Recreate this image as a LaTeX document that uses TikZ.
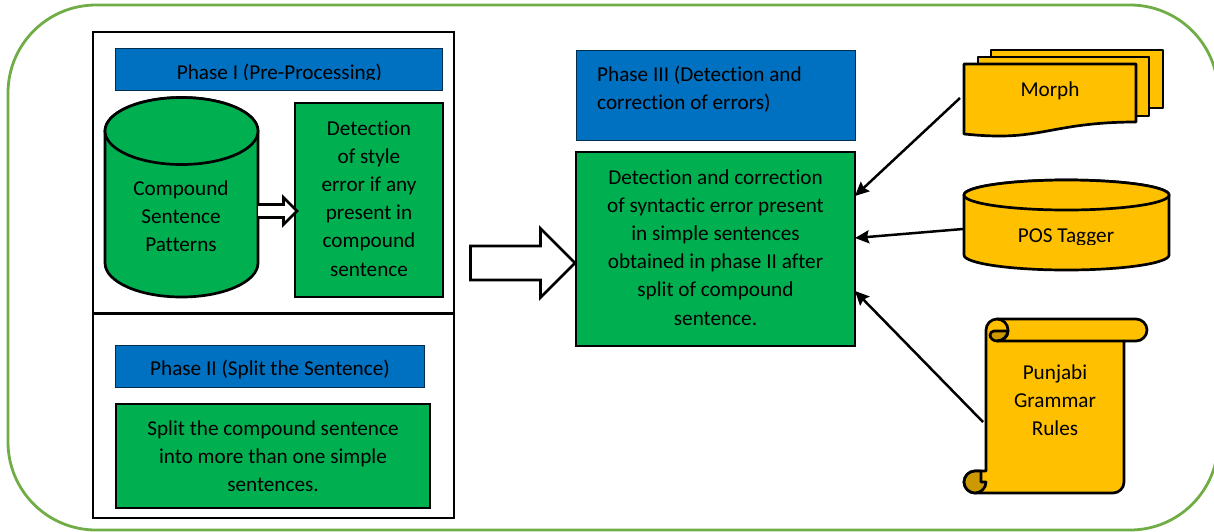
\documentclass[tikz,border=0pt]{standalone}
\usepackage{fontspec}
\setmainfont[Ligatures=NoCommon]{Carlito}
\usetikzlibrary{arrows.meta}
\definecolor{gr}{HTML}{00B050}
\definecolor{bl}{HTML}{0070C0}
\definecolor{yl}{HTML}{FFC000}
\definecolor{dk}{HTML}{CC9A00}
\definecolor{lf}{HTML}{70AD47}
\tikzset{
  x=1pt,y=-1pt,
  ln/.style={draw=black,line width=2.7pt,line join=miter},
  frame/.style={ln,fill=white,minimum width=361pt,inner sep=0pt},
  gbox/.style={ln,fill=gr,inner sep=0pt,align=center,font=\fontsize{21.2}{28.2}\selectfont},
  bbox/.style={draw=black!60!bl,line width=0.8pt,fill=bl,inner sep=0pt},
  lbl/.style={inner sep=0pt,align=center,font=\fontsize{21.2}{28.2}\selectfont,text=black},
  conn/.style={draw=black,line width=2.5pt,-{Stealth[length=14pt,width=13pt,inset=2pt]}},
  hollow/.style={ln,fill=white},
  ylw/.style={ln,fill=yl,line join=round},
}
\begin{document}
\begin{tikzpicture}
\useasboundingbox (0,0) rectangle (1214,531);
\begin{scope}
\clip (0,0) rectangle (1214,531);
\draw[lf,line width=2.8pt,rounded corners=88pt] (8,5) rectangle (1218,530);
\end{scope}
% phase frames
\node[frame,minimum height=281pt] (frameA) at (273.5,172.5) {};
\node[frame,minimum height=204pt] (frameB) at (273.5,416) {};
% phase I
\node[bbox,minimum width=327pt,minimum height=42pt] (ph1) at (279,69) {};
\begin{scope}
\clip (116,48) rectangle (443,79);
\node[lbl] (ph1t) at (279.5,73.5) {Phase I (Pre-Processing)};
\end{scope}
% cylinder
\path[ln,fill=gr] (105,131) arc[start angle=180,end angle=360,x radius=76.5pt,y radius=-33.5pt]
   -- (258,263) arc[start angle=0,end angle=180,x radius=76.5pt,y radius=-34pt] -- cycle;
\path[ln,fill=gr] (181.5,131) ellipse[x radius=76.5pt,y radius=33.5pt];
\node[lbl] (cyl) at (181,216.5) {Compound\\Sentence\\Patterns};
\node[gbox,minimum width=148pt,minimum height=194pt] (det) at (369,200) {\raisebox{1.5pt}{\begin{tabular}{@{}c@{}}Detection\\[0pt]of style\\error if any\\present in\\compound\\sentence\end{tabular}}};
% small block arrow
\path[hollow] (258,204.5) -- (283.5,204.5) -- (283.5,197.5) -- (297,211) -- (283.5,224.5) -- (283.5,217.5) -- (258,217.5);
% phase II
\node[bbox,minimum width=309pt,minimum height=42pt] (ph2) at (270,366) {};
\node[lbl] (ph2t) at (270,369.5) {Phase II (Split the Sentence)};
\node[gbox,minimum width=314pt,minimum height=104pt] (split) at (273,456) {Split the compound sentence\\into more than one simple\\sentences.};
% big arrow
\path[hollow] (470.5,246) -- (540.5,246) -- (540.5,228.5) -- (575,263) -- (540.5,297.5) -- (540.5,280) -- (470.5,280) -- cycle;
% phase III
\node[bbox,minimum width=279pt,minimum height=90pt] (ph3) at (715.5,95) {};
\node[lbl,align=left,anchor=north west] (ph3t) at (597,66) {Phase III (Detection and\\correction of errors)};
\node[gbox,minimum width=279pt,minimum height=194pt] (main) at (715.5,249) {\raisebox{2pt}{\begin{tabular}{@{}c@{}}Detection and correction\\of syntactic error present\\in simple sentences\\obtained in phase II after\\split of compound\\sentence.\end{tabular}}};
% morph
\path[ylw] (991,50) -- (1163,50) -- (1163,108) -- (1149,108) -- (1149,57) -- (991,57) -- cycle;
\path[ylw] (978,57) -- (1149,57) -- (1149,116) -- (1136,116) -- (1136,64) -- (978,64) -- cycle;
\path[ylw] (964,64) -- (1136,64) -- (1136,122) .. controls (1065,122) and (1045,136) .. (1000,136) .. controls (985,136) and (975,135) .. (964,134) -- cycle;
\node[lbl] (morph) at (1050,91) {Morph};
% POS
\path[ylw] (964,195) arc[start angle=180,end angle=360,x radius=102.5pt,y radius=-15pt]
   -- (1169,255) arc[start angle=0,end angle=180,x radius=102.5pt,y radius=-15pt] -- cycle;
\path[ylw] (1066.5,195) ellipse[x radius=102.5pt,y radius=15pt];
\begin{scope}
\clip (964,215) rectangle (1169,244.5);
\node[lbl] (pos) at (1066,237) {POS Tagger};
\end{scope}
% scroll
\path[ylw] (986,330) .. controls (986,324) and (991,319) .. (997,319) -- (1136,319) .. controls (1142,319) and (1147,324) .. (1147,330) .. controls (1147,336) and (1142,341) .. (1136,341) -- (1124,341) -- (1124,482) .. controls (1124,488) and (1119,493) .. (1113,493) -- (975,493) .. controls (969,493) and (964,488) .. (964,482) .. controls (964,476) and (969,471) .. (975,471) -- (986,471) -- cycle;
\path[ln,fill=dk,line join=round] (975,493) .. controls (969,493) and (964,488) .. (964,482) .. controls (964,476) and (969,471) .. (975,471) -- (981,471) -- (981,482) -- (986,482) .. controls (986,488) and (981,493) .. (975,493) -- cycle;
\path[ln,fill=dk,line join=round] (997,341) .. controls (993,341) and (990,338) .. (990,335) .. controls (990,333) and (992,331) .. (994,331) -- (1008,331) .. controls (1008,337) and (1003,341) .. (997,341) -- cycle;
\path[ln,line join=round] (997,319) .. controls (1003,319) and (1008,324) .. (1008,330) .. controls (1008,336) and (1003,341) .. (997,341) -- (1124,341);
\node[lbl] (rules) at (1055,400.5) {Punjabi\\Grammar\\Rules};
% connectors
\coordinate (mfrom) at (960,98);
\coordinate (mto) at (855,196);
\coordinate (pfrom) at (963,229);
\coordinate (pto) at (855,238);
\coordinate (rfrom) at (983,422);
\coordinate (rto) at (855,291);
\draw[conn] (mfrom) -- (mto);
\draw[conn] (pfrom) -- (pto);
\draw[conn] (rfrom) -- (rto);
\end{tikzpicture}
\end{document}
